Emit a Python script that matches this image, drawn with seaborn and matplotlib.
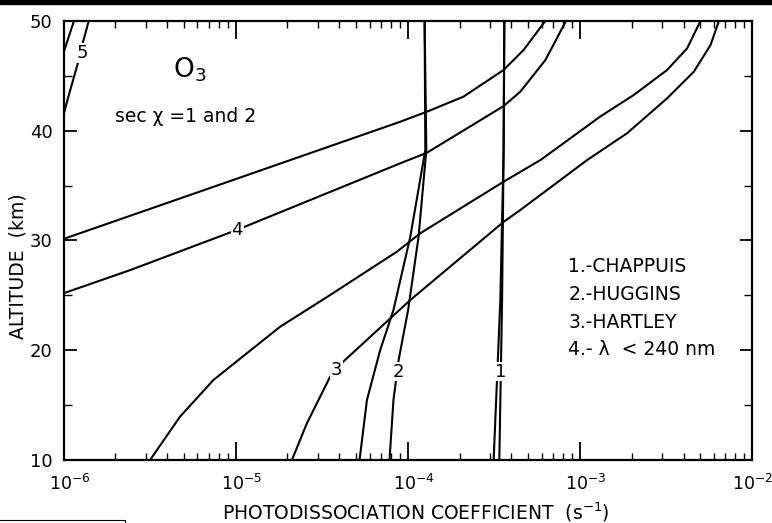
import numpy as np
import pandas as pd
import matplotlib
matplotlib.use("Agg")
import matplotlib.pyplot as plt
import matplotlib.transforms as mtransforms
import seaborn as sns
from matplotlib.lines import Line2D
from matplotlib.patches import Rectangle

# ---- data (x = photodissociation coefficient, y = altitude km)
c5a_x = [1.0e-6, 1.15e-6]
c5a_y = [47.1, 50.0]
c5b_x = [1.0e-6, 1.067e-6, 1.219e-6, 1.276e-6, 1.393e-6]
c5b_y = [41.43, 43.1, 46.3, 47.66, 49.85]

c4a_x = [1.0e-6, 9.66e-6, 9.04e-5, 1.294e-4, 2.104e-4, 3.606e-4, 4.71e-4, 6.3e-4]
c4a_y = [30.14, 35.51, 40.82, 41.74, 43.1, 45.54, 47.36, 50.0]
c4b_x = [1.0e-6, 2.438e-6, 1.016e-5, 9.04e-5, 1.294e-4, 3.606e-4, 4.508e-4, 6.31e-4, 8.3e-4]
c4b_y = [25.19, 27.3, 30.96, 37.03, 38.0, 42.25, 43.56, 46.45, 50.0]

c3a_x = [3.184e-6, 4.753e-6, 7.43e-6, 1.161e-5, 1.816e-5, 3.54e-5, 8.65e-5, 1.183e-4,
         3.606e-4, 5.90e-4, 1.315e-3, 2.056e-3, 3.214e-3, 4.198e-3, 5.01e-3]
c3a_y = [10.0, 13.95, 17.29, 19.72, 22.15, 25.03, 28.98, 30.66,
         35.36, 37.33, 41.3, 43.26, 45.54, 47.51, 49.97]
c3b_x = [2.123e-5, 2.594e-5, 3.54e-5, 4.217e-5, 1.035e-4, 3.606e-4, 4.508e-4,
         1.102e-3, 1.879e-3, 3.214e-3, 4.592e-3, 5.741e-3, 6.412e-3]
c3b_y = [10.0, 13.34, 17.59, 18.96, 24.58, 31.7, 32.78,
         37.33, 39.77, 42.96, 45.38, 47.81, 49.97]

c2a_x = [5.248e-5, 5.794e-5, 6.918e-5, 8.26e-5, 1.035e-4, 1.265e-4, 1.253e-4]
c2a_y = [10.0, 15.47, 20.02, 23.67, 30.35, 38.25, 50.0]
c2b_x = [7.834e-5, 8.26e-5, 8.85e-5, 1.005e-4, 1.156e-4, 1.282e-4, 1.253e-4]
c2b_y = [10.0, 15.47, 19.11, 23.67, 30.35, 38.25, 50.0]

c1a_x = [3.155e-4, 3.451e-4, 3.606e-4, 3.639e-4]
c1a_y = [10.0, 24.58, 38.25, 50.0]
c1b_x = [3.404e-4, 3.532e-4, 3.606e-4, 3.639e-4]
c1b_y = [10.0, 24.58, 38.25, 50.0]

curve_names = ["5a", "5b", "4a", "4b", "3a", "3b", "2a", "2b", "1a", "1b"]
curve_xs = [c5a_x, c5b_x, c4a_x, c4b_x, c3a_x, c3b_x, c2a_x, c2b_x, c1a_x, c1b_x]
curve_ys = [c5a_y, c5b_y, c4a_y, c4b_y, c3a_y, c3b_y, c2a_y, c2b_y, c1a_y, c1b_y]

legend_lines = ["1.-CHAPPUIS", "2.-HUGGINS", "3.-HARTLEY", "4.- \u03bb  < 240 nm"]
x_ticks = [1e-6, 1e-5, 1e-4, 1e-3, 1e-2]
x_ticklabels = ["$10^{-6}$", "$10^{-5}$", "$10^{-4}$", "$10^{-3}$", "$10^{-2}$"]
y_ticks = [10, 20, 30, 40, 50]

rows = []
for name, xs, ys in zip(curve_names, curve_xs, curve_ys):
    for i, (xv, yv) in enumerate(zip(xs, ys)):
        rows.append({"curve": name, "order": i, "coef": xv, "alt": yv})
df = pd.DataFrame(rows)

sns.set_style("ticks")
plt.rcParams["font.family"] = ["DejaVu Sans"]
plt.rcParams["mathtext.fontset"] = "dejavusans"
for key in ["text.color", "axes.labelcolor", "xtick.color", "ytick.color", "axes.edgecolor"]:
    plt.rcParams[key] = "black"

fig = plt.figure(figsize=(7.72, 5.23), dpi=100)
ax = fig.add_axes([63.5 / 772, 1 - 460 / 523, (752 - 63.5) / 772, (460 - 21) / 523])

sns.lineplot(data=df, x="coef", y="alt", units="curve", estimator=None, sort=False,
             color="black", linewidth=1.5, ax=ax, legend=False)

ax.set_xscale("log")
ax.set_xlim(1e-6, 1e-2)
ax.set_ylim(10, 50)
ax.set_xticks(x_ticks)
ax.set_xticklabels(x_ticklabels, fontsize=12.5)
ax.xaxis.set_minor_locator(matplotlib.ticker.LogLocator(base=10, subs=np.arange(2, 10)))
ax.xaxis.set_minor_formatter(matplotlib.ticker.NullFormatter())
ax.set_yticks(y_ticks)
ax.set_yticklabels([str(v) for v in y_ticks], fontsize=13)
ax.set_yticks([15, 25, 35, 45], minor=True)

for s in ax.spines.values():
    s.set_linewidth(1.6)
    s.set_color("black")

ax.tick_params(axis="x", which="major", direction="in", top=True, length=13, width=1.3, pad=10)
ax.tick_params(axis="x", which="minor", direction="in", top=True, length=5, width=1.0)
ax.tick_params(axis="y", which="major", direction="in", right=True, length=9, width=1.3, pad=8)
ax.tick_params(axis="y", which="minor", direction="in", right=True, length=6, width=1.0)

shift = mtransforms.ScaledTranslation(6 / 100, 0, fig.dpi_scale_trans)
for lbl in ax.get_xticklabels()[:-1]:
    lbl.set_transform(lbl.get_transform() + shift)

ax.set_xlabel("PHOTODISSOCIATION COEFFICIENT  (s$^{-1}$)", fontsize=13.5)
ax.xaxis.label.set_va("center")
ax.xaxis.set_label_coords(0.511, -0.118)
ax.set_ylabel("ALTITUDE  (km)", fontsize=13.5)
ax.yaxis.label.set_va("center")
ax.yaxis.set_label_coords(-0.066, 0.442)

lab = dict(ha="center", va="center", fontsize=13, zorder=5,
           bbox=dict(fc="white", ec="none", pad=0.5))
ax.text(1.28e-6, 47.1, "5", **lab)
ax.text(1.02e-5, 30.96, "4", **lab)
ax.text(3.87e-5, 18.2, "3", **lab)
ax.text(8.85e-5, 18.05, "2", **lab)
ax.text(3.45e-4, 18.05, "1", **lab)

ax.text(5.43e-6, 45.56, "O$_3$", ha="center", va="center", fontsize=19)
ax.text(2.0e-6, 41.28, "sec \u03c7 =1 and 2", ha="left", va="center", fontsize=13.5)

for i, t in enumerate(legend_lines):
    ax.text(8.57e-4, 27.59 - i * 2.52, t, ha="left", va="center", fontsize=13.5)

# scan artefacts: dark band at top and frame fragment at bottom-left
fig.patches.append(Rectangle((0, 1 - 4 / 523), 1, 4 / 523, transform=fig.transFigure,
                             color="black", zorder=10))
fig.add_artist(Line2D([0, 125 / 772], [1 - 520 / 523, 1 - 520 / 523],
                      transform=fig.transFigure, color="black", lw=0.8))
fig.add_artist(Line2D([125 / 772, 125 / 772], [1 - 520 / 523, 0],
                      transform=fig.transFigure, color="black", lw=0.8))

fig.savefig("out.png", dpi=100)
